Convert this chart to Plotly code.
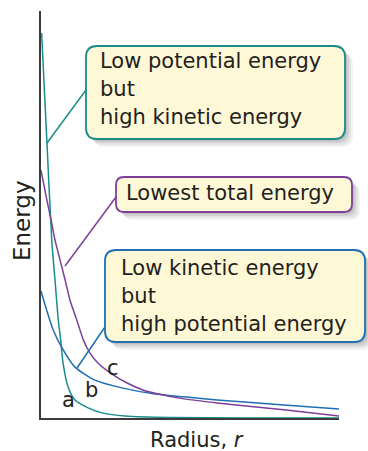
import plotly.graph_objects as go

# ---- data (arbitrary units) ----
radius_a = [0.02, 0.20, 0.36, 0.47, 0.58, 0.66, 0.74, 0.91, 1.14, 1.58, 2.08, 2.82, 4.33, 7.0, 10.0]
energy_a = [9.46, 6.76, 4.37, 3.39, 2.41, 1.92, 1.35, 0.76, 0.44, 0.25, 0.12, 0.05, 0.012, 0.003, 0.0]

radius_b = [0.00, 0.19, 0.41, 0.69, 1.14, 1.81, 2.71, 3.83, 4.80, 5.91, 8.15, 10.0]
energy_b = [3.12, 2.65, 2.16, 1.74, 1.25, 0.93, 0.74, 0.59, 0.52, 0.44, 0.32, 0.22]

radius_c = [0.00, 0.17, 0.34, 0.47, 0.64, 0.81, 0.97, 1.20, 1.42, 1.64, 1.91, 2.32, 2.89, 3.42, 3.83, 4.80, 5.91, 8.15, 10.0]
energy_c = [6.09, 5.45, 4.86, 4.37, 3.88, 3.39, 2.90, 2.41, 1.92, 1.60, 1.35, 1.11, 0.86, 0.69, 0.61, 0.47, 0.37, 0.20, 0.05]

curve_labels = ["a", "b", "c"]
label_x = [0.91, 1.71, 2.42]
label_y = [0.44, 0.69, 1.24]

box1_lines = ["Low potential energy", "but", "high kinetic energy"]
box2_lines = ["Lowest total energy"]
box3_lines = ["Low kinetic energy", "but", "high potential energy"]

TEAL = "#1A8C8C"
PURPLE = "#7D3F98"
BLUE = "#1F6FB2"
FILL = "#FFF8D6"
TXT = "#231F20"
FONT = "DejaVu Sans"

W, H = 368, 451
L, R, T, B = 41, 339, 11, 418


def px(x):
    return (x - L) / (R - L)


def py(y):
    return (B - y) / (B - T)


fig = go.Figure()
for xs, ys, col in [(radius_a, energy_a, TEAL), (radius_b, energy_b, BLUE), (radius_c, energy_c, PURPLE)]:
    fig.add_trace(go.Scatter(x=xs, y=ys, mode="lines", line=dict(color=col, width=1.5, shape="spline", smoothing=0.6),
                             hoverinfo="skip", showlegend=False))

for t, x, y in zip(curve_labels, label_x, label_y):
    fig.add_annotation(x=x, y=y, xref="x", yref="y", text=t, showarrow=False,
                       font=dict(family=FONT, size=21, color=TXT), xanchor="center", yanchor="middle")

shapes = []


def rrect_path(x0, y0, x1, y1, r):
    def P(x, y):
        return f"{px(x):.5f},{py(y):.5f}"
    d = (f"M {P(x0 + r, y0)} L {P(x1 - r, y0)} Q {P(x1, y0)} {P(x1, y0 + r)} "
         f"L {P(x1, y1 - r)} Q {P(x1, y1)} {P(x1 - r, y1)} L {P(x0 + r, y1)} "
         f"Q {P(x0, y1)} {P(x0, y1 - r)} L {P(x0, y0 + r)} Q {P(x0, y0)} {P(x0 + r, y0)} Z")
    return d


def add_box(x0, y0, x1, y1, r, col, lines, tx, ty, dy, conn):
    # soft shadow
    for off, op in [(8, 0.07), (6, 0.10), (4, 0.13), (2, 0.15)]:
        shapes.append(dict(type="path", xref="paper", yref="paper", path=rrect_path(x0 + off, y0 + off, x1 + off, y1 + off, r),
                           fillcolor="rgba(90,90,90,%.2f)" % op, line=dict(width=0), layer="above"))
    shapes.append(dict(type="line", xref="paper", yref="paper", x0=px(conn[0]), y0=py(conn[1]), x1=px(conn[2]), y1=py(conn[3]),
                       line=dict(color=col, width=1.5), layer="above"))
    shapes.append(dict(type="path", xref="paper", yref="paper", path=rrect_path(x0, y0, x1, y1, r),
                       fillcolor=FILL, line=dict(color=col, width=1.8), layer="above"))
    for i, s in enumerate(lines):
        fig.add_annotation(x=px(tx), y=py(ty + i * dy), xref="paper", yref="paper", text=s, showarrow=False,
                           font=dict(family=FONT, size=21, color=TXT), xanchor="left", yanchor="middle")


add_box(86, 46, 345, 139, 11, TEAL, box1_lines, 98, 61, 28, (86, 90, 47, 143))
add_box(116, 177, 352, 212, 8, PURPLE, box2_lines, 124, 193, 0, (116, 197, 65, 266))
add_box(105, 250, 365, 342, 11, BLUE, box3_lines, 119, 268, 28, (105, 327, 77, 368))

fig.add_annotation(x=px(21.5), y=py(220.5), xref="paper", yref="paper", text="Energy", textangle=-90, showarrow=False,
                   font=dict(family=FONT, size=23, color=TXT), xanchor="center", yanchor="middle")
fig.add_annotation(x=px(196.5), y=py(440), xref="paper", yref="paper", text="Radius, <i>r</i>", showarrow=False,
                   font=dict(family=FONT, size=21, color=TXT), xanchor="center", yanchor="middle")

fig.update_layout(
    width=W, height=H, margin=dict(l=L, r=W - R, t=T, b=H - B),
    paper_bgcolor="white", plot_bgcolor="white", shapes=shapes,
    xaxis=dict(range=[0, 10], showgrid=False, zeroline=False, showticklabels=False, ticks="",
               showline=True, linecolor="#3C3C3C", linewidth=1.5, layer="below traces", fixedrange=True),
    yaxis=dict(range=[0, 10], showgrid=False, zeroline=False, showticklabels=False, ticks="",
               showline=True, linecolor="#3C3C3C", linewidth=1.5, layer="below traces", fixedrange=True),
)
fig.write_html("out.html", config={"displayModeBar": False},
               post_script="document.body.style.margin='0px';document.body.style.overflow='hidden';")
